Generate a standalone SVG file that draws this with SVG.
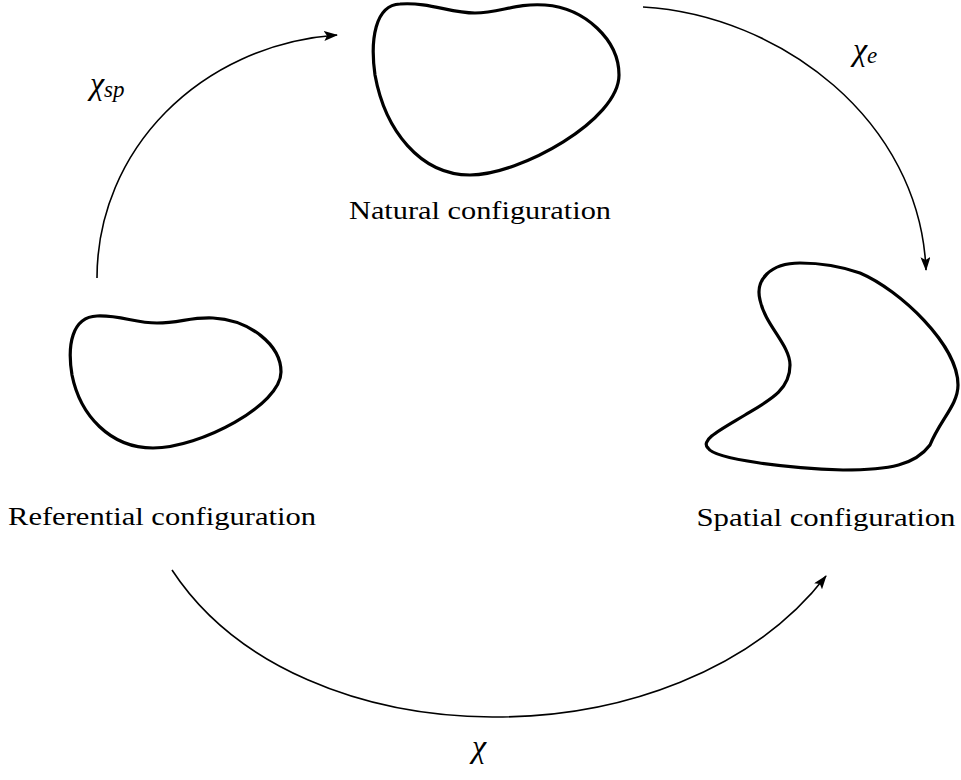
<svg xmlns="http://www.w3.org/2000/svg" width="961" height="780" viewBox="0 0 961 780">
<style>
.shape{fill:none;stroke:#000;stroke-width:3.2;stroke-linejoin:round}
.conn{fill:none;stroke:#000;stroke-width:1.6}
.lbl{font-family:'Liberation Serif',serif;font-size:25px;fill:#000}
.math{font-family:'Liberation Serif',serif;font-style:italic;fill:#000}
</style>
<defs>
<marker id="ah" viewBox="0 0 14 10" refX="13" refY="5" markerWidth="14" markerHeight="10" markerUnits="userSpaceOnUse" orient="auto">
<path d="M0,0 L14,5 L0,10 L3,5 Z" fill="#000"/>
</marker>
</defs>
<rect width="961" height="780" fill="#fff"/>
<g id="natural">
<path class="shape" d="M 400,4 C 430,2 450,13 475,13 C 500,13 515,3 545,5 C 585,8 619,40 619,75 C 619,120 520,175 470,175 C 420,175 385,130 375,75 C 370,40 375,5 400,4 Z"/>
<text class="lbl" x="480" y="219" text-anchor="middle" textLength="262" lengthAdjust="spacingAndGlyphs">Natural configuration</text>
</g>
<g id="referential">
<path class="shape" d="M 97,316 C 120,315 135,323 157,323 C 180,323 190,317 213,318 C 250,320 281,345 281,372 C 281,405 200,448 153,448 C 110,448 80,415 72,375 C 67,345 72,317 97,316 Z"/>
<text class="lbl" x="162" y="525" text-anchor="middle" textLength="308" lengthAdjust="spacingAndGlyphs">Referential configuration</text>
</g>
<g id="spatial">
<path class="shape" d="M 800,263 C 770,263 755,280 760,300 C 765,325 790,345 790,365 C 790,390 770,400 745,415 C 720,430 700,440 708,448 C 715,460 790,468 843,470 C 890,470 915,465 930,445 C 940,420 958,405 958,385 C 958,345 900,290 860,273 C 840,266 820,263 800,263 Z"/>
<text class="lbl" x="826" y="526" text-anchor="middle" textLength="259" lengthAdjust="spacingAndGlyphs">Spatial configuration</text>
</g>
<g id="connectors">
<path class="conn" d="M 97,278 C 97,150 200,45 337,35" marker-end="url(#ah)"/>
<path class="conn" d="M 643,7 C 780,15 920,120 926,270" marker-end="url(#ah)"/>
<path class="conn" d="M 172,570 C 300,765 680,765 826,576" marker-end="url(#ah)"/>
</g>
<g id="labels">
<text class="math" x="90" y="94" font-size="32">χ<tspan font-size="23" dy="3">sp</tspan></text>
<text class="math" x="853" y="60" font-size="32">χ<tspan font-size="23" dy="3">e</tspan></text>
<text class="math" x="472" y="757" font-size="32">χ</text>
</g>
</svg>
